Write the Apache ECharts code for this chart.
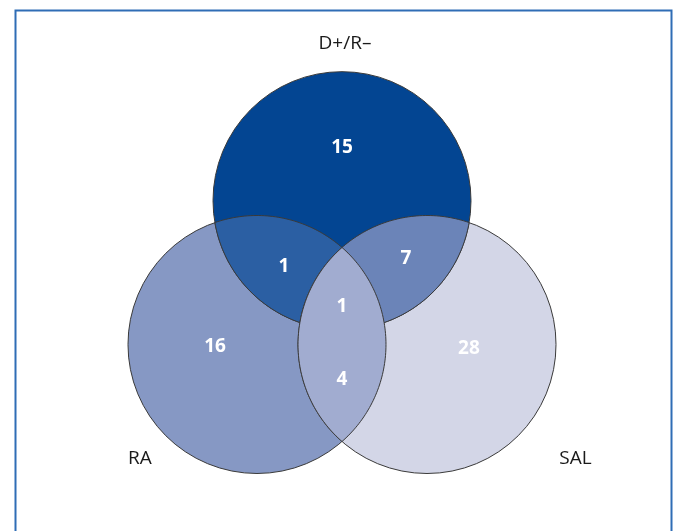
<!DOCTYPE html>
<html>
<head>
<meta charset="utf-8">
<script src="https://cdn.jsdelivr.net/npm/echarts@6/dist/echarts.min.js"></script>
<style>
  html, body { margin: 0; padding: 0; background: #ffffff; }
  #chart { width: 674px; height: 531px; }
</style>
</head>
<body>
<div id="chart"></div>
<script>
// ---- data ----
const setNames = ['D+/R–', 'RA', 'SAL'];
const regionNames = ['D+/R– only', 'RA only', 'SAL only', 'D+/R– ∩ RA', 'D+/R– ∩ SAL', 'RA ∩ SAL', 'D+/R– ∩ RA ∩ SAL'];
const regionCounts = [15, 16, 28, 1, 7, 4, 1];

// ---- layout (unit = circle radius) ----
const layout = {
  radius: 1,
  centers: [[0, 1.115], [-0.659, 0], [0.659, 0]],          // D+/R–, RA, SAL
  setLabelPos: [[0.023, 2.33], [-1.566, -0.884], [1.81, -0.884]],
  regionLabelPos: [[0, 1.53], [-0.984, -0.016], [0.984, -0.031], [-0.45, 0.605], [0.496, 0.667], [0, -0.271], [0, 0.295]]
};
const styles = {
  circleFill: ['#034592', '#8698c4', '#d3d6e7'],
  lensFill: { '0-1': '#2b5fa3', '0-2': '#6b84b8', '1-2': '#a1acd0' },
  stroke: '#3a3a3a'
};

function circlePts(c, r, a0, a1, n) {
  const pts = [];
  for (let i = 0; i <= n; i++) {
    const t = a0 + (a1 - a0) * i / n;
    pts.push([c[0] + r * Math.cos(t), c[1] + r * Math.sin(t)]);
  }
  return pts;
}
function lensPts(a, b, r) {
  const dx = b[0] - a[0], dy = b[1] - a[1];
  const d = Math.hypot(dx, dy);
  const alpha = Math.acos(d / (2 * r));
  const tab = Math.atan2(dy, dx), tba = Math.atan2(-dy, -dx);
  return circlePts(a, r, tab - alpha, tab + alpha, 80)
    .concat(circlePts(b, r, tba - alpha, tba + alpha, 80));
}

function renderItem(params, api) {
  const C = layout.centers.map(c => api.coord(c));
  const r = api.size([layout.radius, 0])[0];
  const children = [];
  const strokeStyle = { stroke: styles.stroke, lineWidth: 1 };
  // whole circles: RA, SAL, then D+/R– on top
  [1, 2, 0].forEach(i => {
    children.push({ type: 'circle', shape: { cx: C[i][0], cy: C[i][1], r: r },
      style: Object.assign({ fill: styles.circleFill[i] }, strokeStyle) });
  });
  // pairwise lenses
  [[0, 1], [0, 2], [1, 2]].forEach(([i, j]) => {
    children.push({ type: 'polygon', shape: { points: lensPts(C[i], C[j], r) },
      style: Object.assign({ fill: styles.lensFill[i + '-' + j] }, strokeStyle) });
  });
  // set labels
  setNames.forEach((name, i) => {
    const p = api.coord(layout.setLabelPos[i]);
    children.push({ type: 'text', x: p[0], y: p[1],
      style: { text: name, fill: '#1a1a1a', font: '19px "Open Sans", sans-serif', align: 'center', verticalAlign: 'middle' } });
  });
  // region counts
  regionCounts.forEach((v, k) => {
    const p = api.coord(layout.regionLabelPos[k]);
    children.push({ type: 'text', x: p[0], y: p[1],
      style: { text: String(v), fill: '#ffffff', font: 'bold 19px "Open Sans", sans-serif', align: 'center', verticalAlign: 'middle' } });
  });
  return { type: 'group', children: children };
}

const UNIT = 129;
const chart = echarts.init(document.getElementById('chart'), null, { renderer: 'canvas' });
chart.setOption({
  backgroundColor: '#ffffff',
  animation: false,
  graphic: [{
    type: 'rect', left: 13, top: 8, z: 100,
    shape: { width: 656, height: 600 },
    style: { fill: 'none', stroke: '#2f6db5', lineWidth: 2 }
  }],
  grid: { left: 342 - 2.4 * UNIT, top: 344.5 - 2.6 * UNIT, width: 4.8 * UNIT, height: 4 * UNIT },
  xAxis: { type: 'value', min: -2.4, max: 2.4, show: false },
  yAxis: { type: 'value', min: -1.4, max: 2.6, show: false },
  series: [{
    type: 'custom',
    name: 'Venn',
    data: [regionNames.map((n, i) => regionCounts[i])],
    renderItem: renderItem,
    clip: false
  }]
});
</script>
</body>
</html>
